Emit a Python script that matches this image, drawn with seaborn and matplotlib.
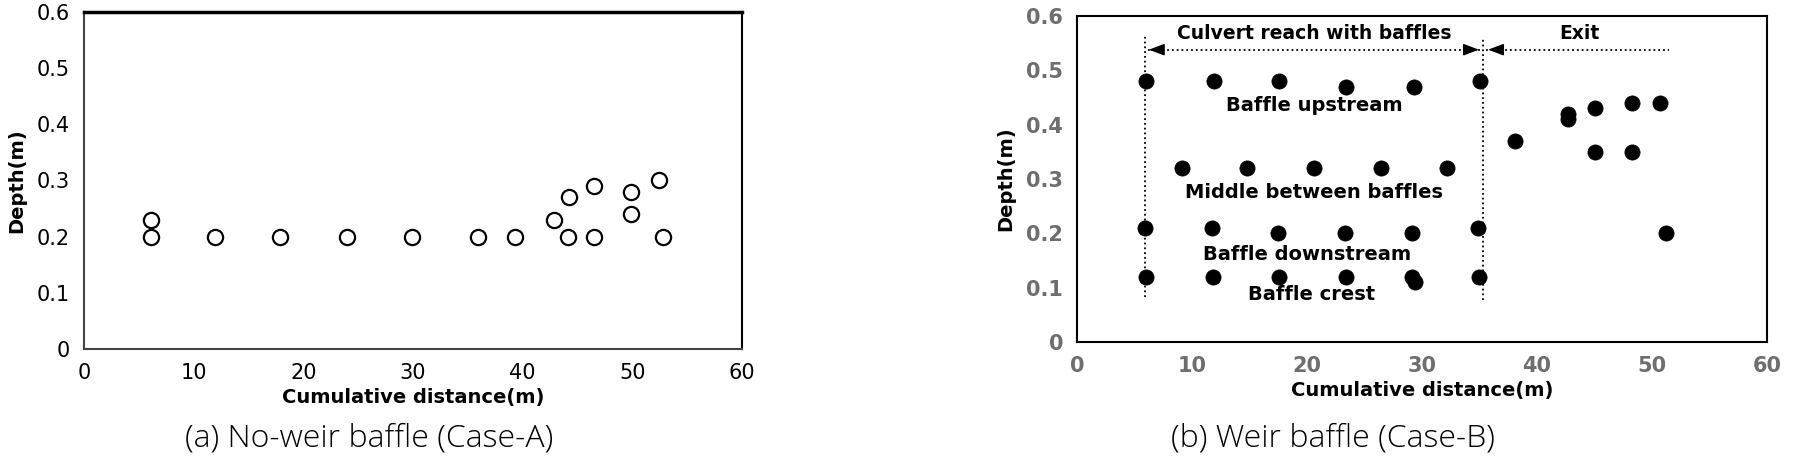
import matplotlib
matplotlib.use("Agg")
import matplotlib.pyplot as plt
import seaborn as sns
import pandas as pd

sns.set_theme(style="white")
plt.rcParams['font.family'] = ['DejaVu Sans']
plt.rcParams['text.color'] = 'black'
plt.rcParams['axes.labelcolor'] = 'black'

# --- data: (a) no-weir baffle, open circles
dist_a = [6.1, 6.1, 11.9, 17.9, 24.0, 29.9, 35.9, 39.3, 42.9, 44.1, 44.2,
          46.5, 46.5, 49.9, 49.9, 52.4, 52.8]
depth_a = [0.23, 0.20, 0.20, 0.20, 0.20, 0.20, 0.20, 0.20, 0.23, 0.20, 0.27,
           0.29, 0.20, 0.28, 0.24, 0.30, 0.20]

# --- data: (b) weir baffle, filled circles
dist_b = [6.0, 11.9, 17.6, 23.4, 29.3, 35.0,           # baffle upstream
          9.1, 14.8, 20.6, 26.4, 32.2,                 # middle between baffles
          5.9, 11.7, 17.5, 23.3, 29.1, 34.9,           # baffle downstream
          6.0, 11.8, 17.6, 23.4, 29.1, 29.35, 34.95,   # baffle crest
          38.1, 42.7, 42.7, 45.0, 45.0, 48.3, 48.3, 50.7, 51.2]  # exit
depth_b = [0.48, 0.48, 0.48, 0.47, 0.47, 0.48,
           0.32, 0.32, 0.32, 0.32, 0.32,
           0.21, 0.21, 0.20, 0.20, 0.20, 0.21,
           0.12, 0.12, 0.12, 0.12, 0.12, 0.11, 0.12,
           0.37, 0.42, 0.41, 0.43, 0.35, 0.44, 0.35, 0.44, 0.20]

reach_start, reach_end, exit_end = 5.9, 35.3, 51.5
arrow_y = 0.538
region_labels = ["Culvert reach with baffles", "Exit"]
region_x = [20.6, 43.7]
zone_labels = ["Baffle upstream", "Middle between baffles",
               "Baffle downstream", "Baffle crest"]
zone_x = [20.6, 20.6, 20.0, 20.4]
zone_y = [0.436, 0.276, 0.161, 0.088]

x_ticks = [0, 10, 20, 30, 40, 50, 60]
y_ticks = [0, 0.1, 0.2, 0.3, 0.4, 0.5, 0.6]
y_ticklabels = ["0", "0.1", "0.2", "0.3", "0.4", "0.5", "0.6"]

df_a = pd.DataFrame({"dist": dist_a, "depth": depth_a})
df_b = pd.DataFrame({"dist": dist_b, "depth": depth_b})

W, H = 1795, 472
fig = plt.figure(figsize=(W / 100, H / 100), dpi=100)
ax1 = fig.add_axes([84 / W, 1 - 349 / H, (742 - 84) / W, (349 - 12) / H])
ax2 = fig.add_axes([1077 / W, 1 - 342 / H, (1767 - 1077) / W, (342 - 16) / H])

# ---------------- panel (a)
sns.scatterplot(data=df_a, x="dist", y="depth", ax=ax1, s=120,
                facecolor="white", edgecolor="black", linewidth=1.6, legend=False)

# ---------------- panel (b)
sns.scatterplot(data=df_b, x="dist", y="depth", ax=ax2, s=120,
                color="black", edgecolor="black", linewidth=0.5, legend=False)

ax2.plot([reach_start, reach_start], [0.083, 0.563], ls=":", color="black", lw=1.3)
ax2.plot([reach_end, reach_end], [0.078, 0.559], ls=":", color="black", lw=1.3)
ax2.plot([reach_start + 0.3, reach_end - 0.3], [arrow_y, arrow_y], ls=":", color="black", lw=1.3)
ax2.plot([reach_end + 0.3, exit_end], [arrow_y, arrow_y], ls=":", color="black", lw=1.3)
head = dict(arrowstyle="-|>,head_length=0.8,head_width=0.3", color="black", lw=1.0)
ax2.annotate("", xy=(reach_start + 0.1, arrow_y), xytext=(reach_start + 1.2, arrow_y), arrowprops=head)
ax2.annotate("", xy=(reach_end - 0.1, arrow_y), xytext=(reach_end - 1.2, arrow_y), arrowprops=head)
ax2.annotate("", xy=(reach_end + 0.2, arrow_y), xytext=(reach_end + 1.3, arrow_y), arrowprops=head)

for lab, x in zip(region_labels, region_x):
    ax2.text(x, 0.568, lab, ha="center", va="center", fontsize=13.5, fontweight="bold")
for lab, x, y in zip(zone_labels, zone_x, zone_y):
    ax2.text(x, y, lab, ha="center", va="center", fontsize=14, fontweight="bold")

# ---------------- axes styling
for ax, tick_col, tick_w in [(ax1, "black", "normal"), (ax2, "#6e6e6e", "bold")]:
    ax.set_xlim(0, 60)
    ax.set_ylim(0, 0.6)
    ax.set_xticks(x_ticks)
    ax.set_yticks(y_ticks)
    ax.set_yticklabels(y_ticklabels)
    ax.tick_params(axis="both", direction="in", length=4, width=0.8, color="#888888",
                   labelsize=15, labelcolor=tick_col, pad=10)
    for lbl in ax.get_xticklabels() + ax.get_yticklabels():
        lbl.set_fontweight(tick_w)
    for sp in ax.spines.values():
        sp.set_color("black")
        sp.set_linewidth(1.5)
    ax.set_xlabel("Cumulative distance(m)", fontsize=14, fontweight="bold", labelpad=4)
    ax.set_ylabel("Depth(m)", fontsize=14, fontweight="bold", labelpad=8)
ax1.spines["top"].set_linewidth(2.5)
ax1.spines["left"].set_color("#444444")
ax1.spines["bottom"].set_color("#444444")
ax2.tick_params(length=0)

# captions
fig.text(369 / W, 1 - 438 / H, "(a) No-weir baffle (Case-A)", ha="center", va="center",
         fontsize=23, family="Open Sans", fontweight="light", color="black")
fig.text(1333 / W, 1 - 438 / H, "(b) Weir baffle (Case-B)", ha="center", va="center",
         fontsize=23, family="Open Sans", fontweight="light", color="black")

fig.savefig("out.png", dpi=100, facecolor="white")
